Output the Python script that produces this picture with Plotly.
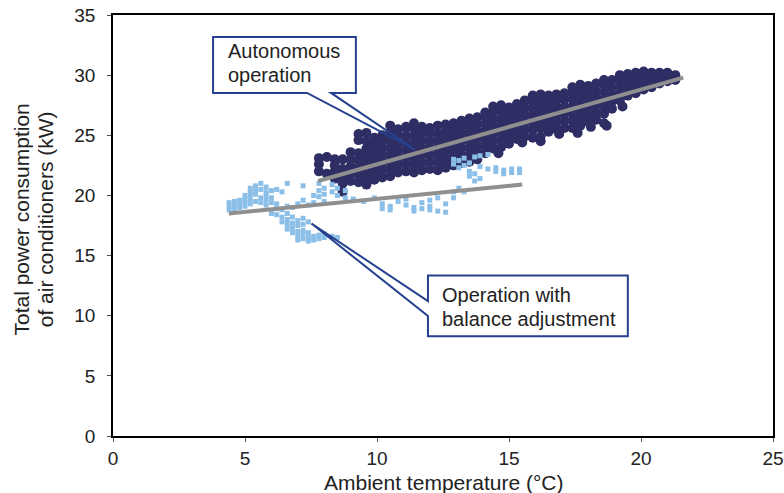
import plotly.graph_objects as go

# ---------------- data ----------------
# Autonomous operation: columns of ambient temperature (°C) with power values (kW)
auto_temp_cols = [7.8, 8.1, 8.4, 8.7, 9.0, 9.3, 9.6, 9.9, 10.2, 10.5, 10.8, 11.1, 11.4, 11.7,
                  12.0, 12.3, 12.6, 12.9, 13.2, 13.5, 13.8, 14.1, 14.4, 14.7, 15.0, 15.3,
                  15.6, 15.9, 16.2, 16.5, 16.8, 17.1, 17.4, 17.7, 18.0, 18.3, 18.6, 18.9,
                  19.2, 19.5, 19.8, 20.1, 20.4, 20.7, 21.0, 21.3]
auto_power_cols = [
    [22.0, 22.6, 23.1],
    [21.8, 23.2],
    [21.4, 22.0, 22.5, 23.0],
    [20.3, 21.0, 21.6, 22.2, 23.0],
    [21.2, 21.8, 22.4, 23.0, 23.6],
    [21.1, 21.7, 22.3, 22.9, 23.5, 24.6, 25.1],
    [20.9, 21.5, 22.1, 22.7, 23.3, 23.9, 24.5, 25.2],
    [21.3, 21.9, 22.5, 23.1, 23.7, 24.3, 24.8],
    [21.5, 22.1, 22.7, 23.3, 23.9, 24.5, 25.0],
    [21.6, 22.2, 22.8, 23.4, 24.0, 24.6, 25.2, 25.8],
    [21.9, 22.5, 23.1, 23.7, 24.3, 24.9, 25.5],
    [22.0, 22.6, 23.2, 23.8, 24.4, 25.0, 25.7],
    [21.9, 22.5, 23.1, 23.7, 24.3, 24.9, 25.5, 26.0],
    [22.1, 22.7, 23.3, 23.9, 24.5, 25.1, 25.7],
    [22.2, 22.8, 23.4, 24.0, 24.6, 25.2, 25.6],
    [22.1, 22.7, 23.3, 23.9, 24.5, 25.1, 25.8],
    [22.3, 22.9, 23.5, 24.1, 24.7, 25.3, 25.9],
    [22.5, 23.1, 23.7, 24.3, 24.9, 25.5, 26.0],
    [22.7, 23.3, 23.9, 24.5, 25.1, 25.7, 26.2],
    [22.8, 23.4, 24.0, 24.6, 25.2, 25.8, 26.4],
    [23.0, 23.6, 24.2, 24.8, 25.4, 26.0, 26.5],
    [23.5, 24.1, 24.7, 25.3, 25.9, 26.5, 26.9],
    [23.9, 24.5, 25.1, 25.7, 26.3, 26.9, 27.4],
    [24.0, 24.6, 25.2, 25.8, 26.4, 27.0, 27.5],
    [24.3, 24.9, 25.5, 26.1, 26.7, 27.3],
    [24.7, 25.3, 25.9, 26.5, 27.1, 27.6],
    [24.9, 25.5, 26.1, 26.7, 27.3, 27.9],
    [24.8, 25.4, 26.0, 26.6, 27.2, 27.8, 28.3],
    [24.9, 25.6, 26.2, 26.8, 27.4, 28.0, 28.4],
    [25.3, 25.9, 26.5, 27.1, 27.7, 28.3],
    [25.5, 26.1, 26.7, 27.3, 27.9, 28.4],
    [25.6, 26.2, 26.8, 27.4, 28.0, 28.5],
    [25.6, 26.2, 26.8, 27.4, 28.0, 28.6, 29.0],
    [25.8, 26.4, 27.0, 27.6, 28.2, 28.8, 29.2],
    [26.1, 26.7, 27.3, 27.9, 28.5, 29.1],
    [26.3, 26.9, 27.5, 28.1, 28.7, 29.3],
    [26.0, 26.8, 27.4, 28.0, 28.6, 29.2, 29.6],
    [27.2, 27.8, 28.4, 29.0, 29.6],
    [27.9, 28.5, 29.1, 29.7, 30.0],
    [28.3, 28.9, 29.5, 30.1],
    [28.5, 29.1, 29.7, 30.2],
    [28.8, 29.4, 30.0, 30.3],
    [29.0, 29.6, 30.2],
    [29.3, 29.8, 30.2],
    [29.5, 29.9, 30.2],
    [29.6, 30.0],
]
# a few stray autonomous points outside the main band
auto_extra_temp = [15.5, 16.2, 17.6, 18.7, 19.3, 14.6, 16.9, 18.1]
auto_extra_power = [24.4, 24.5, 25.2, 25.8, 27.4, 23.5, 25.1, 25.7]

# Operation with balance adjustment
bal_temp_cols = [4.4, 4.6, 4.8, 5.0, 5.2, 5.4, 5.6, 5.8, 6.0, 6.2, 6.4, 6.6, 6.8, 7.0, 7.2,
                 7.4, 7.6, 7.8, 8.0, 8.3, 8.5, 8.8, 9.1, 9.5, 9.9, 10.2, 10.5, 10.8, 11.1,
                 11.4, 11.7, 12.0, 12.3, 12.6, 12.9, 13.1, 13.3, 13.5, 13.7, 13.9, 14.2,
                 14.5, 14.8, 15.1, 15.4]
bal_power_cols = [
    [18.8, 19.1, 19.4],
    [18.9, 19.2, 19.5],
    [19.0, 19.3, 19.6],
    [19.1, 19.4, 19.7, 20.0],
    [19.3, 19.6, 20.0, 20.3, 20.6],
    [19.5, 20.1, 20.4, 20.8],
    [19.4, 19.8, 20.5, 21.0],
    [19.2, 19.6, 20.0, 20.3, 20.7],
    [18.5, 19.4, 19.8, 20.4],
    [18.4, 18.9, 19.3, 20.5],
    [17.8, 18.2, 18.8, 20.3],
    [17.2, 17.6, 18.0, 18.5, 19.1, 21.0],
    [16.9, 17.3, 17.7, 18.2, 19.0],
    [16.3, 16.6, 17.0, 17.5, 17.9, 19.3],
    [16.4, 16.8, 17.1, 17.6, 18.1, 19.6, 20.8],
    [16.2, 16.5, 16.9, 17.8, 19.2],
    [16.3, 16.6, 19.4, 20.0],
    [16.4, 16.7, 19.9, 20.4, 21.0],
    [16.5, 16.8, 19.5, 20.1, 20.6],
    [16.6, 20.3, 20.9],
    [16.5, 20.0, 20.6],
    [19.8, 20.4],
    [19.7],
    [19.5],
    [19.8],
    [18.9, 19.3],
    [18.8, 19.1],
    [19.5],
    [19.2, 19.7],
    [18.7, 19.0],
    [18.9, 19.4],
    [18.8, 19.1, 19.6],
    [18.7, 19.8],
    [18.6, 19.3],
    [19.8, 20.3, 22.6, 23.0],
    [20.6, 22.3, 22.9],
    [20.3, 22.5, 23.1],
    [21.6, 22.0, 22.7],
    [21.2, 21.8, 23.2],
    [21.4, 22.4, 23.3],
    [22.2, 23.4],
    [22.0, 22.3],
    [21.8, 22.1],
    [21.9, 22.2],
    [21.9, 22.2],
]

# Fitted trend lines (end points)
fit_auto_temp = [7.77, 21.6]
fit_auto_power = [21.2, 29.8]
fit_bal_temp = [4.39, 15.5]
fit_bal_power = [18.5, 20.9]

x_tick_vals = [0, 5, 10, 15, 20, 25]
y_tick_vals = [0, 5, 10, 15, 20, 25, 30, 35]

# ---------------- build ----------------
def flatten(tcols, pcols):
    xs, ys = [], []
    for t, ps in zip(tcols, pcols):
        for p in ps:
            xs.append(t)
            ys.append(p)
    return xs, ys

ax, ay = flatten(auto_temp_cols, auto_power_cols)
ax += auto_extra_temp
ay += auto_extra_power
bx, by = flatten(bal_temp_cols, bal_power_cols)

NAVY = "#2f2e64"
LIGHT = "#8cbfe8"
GRAY = "#8f8f8f"
CALL = "#24408f"
TXT = "#222222"
FONT = "Liberation Sans, Arial, sans-serif"

fig = go.Figure()
fig.add_trace(go.Scatter(x=ax, y=ay, mode="markers",
                         marker=dict(color=NAVY, size=10, symbol="circle", line=dict(width=0)),
                         showlegend=False, hoverinfo="skip"))
fig.add_trace(go.Scatter(x=bx, y=by, mode="markers",
                         marker=dict(color=LIGHT, size=5, symbol="square", line=dict(width=0)),
                         showlegend=False, hoverinfo="skip"))
fig.add_trace(go.Scatter(x=fit_auto_temp, y=fit_auto_power, mode="lines",
                         line=dict(color=GRAY, width=4), showlegend=False, hoverinfo="skip"))
fig.add_trace(go.Scatter(x=fit_bal_temp, y=fit_bal_power, mode="lines",
                         line=dict(color=GRAY, width=4), showlegend=False, hoverinfo="skip"))

# Callouts (box + wedge pointer)
def callout(x0, x1, y0, y1, path_pts):
    fig.add_shape(type="rect", xref="x", yref="y", x0=x0, x1=x1, y0=y0, y1=y1,
                  fillcolor="white", line=dict(width=0), layer="above")
    d = "M " + " L ".join(f"{px},{py}" for px, py in path_pts) + " Z"
    fig.add_shape(type="path", xref="x", yref="y", path=d,
                  line=dict(color=CALL, width=2), fillcolor="rgba(0,0,0,0)", layer="above")

callout(3.79, 9.2, 28.52, 33.17,
        [(3.79, 28.52), (3.79, 33.17), (9.2, 33.17), (9.2, 28.52),
         (8.26, 28.52), (11.44, 23.8), (7.35, 28.52)])
callout(11.93, 19.5, 8.29, 13.35,
        [(11.93, 8.29), (19.5, 8.29), (19.5, 13.35), (11.93, 13.35),
         (11.93, 11.22), (7.52, 17.66), (11.93, 9.97)])

def label(x, y, text):
    fig.add_annotation(x=x, y=y, xref="x", yref="y", xanchor="left", yanchor="middle",
                       showarrow=False, text=text, font=dict(family=FONT, size=20, color=TXT))

label(4.28, 32.0, "Autonomous")
label(4.28, 30.0, "operation")
label(12.39, 11.7, "Operation with")
label(12.39, 9.7, "balance adjustment")

# Axis titles as annotations (paper coordinates)
fig.add_annotation(xref="paper", yref="paper", x=0.5, y=-0.11, xanchor="center", yanchor="middle",
                   showarrow=False, text="Ambient temperature (°C)",
                   font=dict(family=FONT, size=21, color=TXT))
fig.add_annotation(xref="paper", yref="paper", x=-0.138, y=0.514, xanchor="center", yanchor="middle",
                   showarrow=False, textangle=-90, text="Total power consumption",
                   font=dict(family=FONT, size=21, color=TXT))
fig.add_annotation(xref="paper", yref="paper", x=-0.102, y=0.514, xanchor="center", yanchor="middle",
                   showarrow=False, textangle=-90, text="of air conditioners (kW)",
                   font=dict(family=FONT, size=21, color=TXT))

fig.update_layout(
    width=784, height=493,
    margin=dict(l=113, r=11, t=15, b=57),
    paper_bgcolor="white", plot_bgcolor="white",
    font=dict(family=FONT, size=19, color=TXT),
    showlegend=False,
)
fig.update_xaxes(range=[0, 25], tickvals=x_tick_vals, showgrid=False, zeroline=False,
                 showline=True, linecolor="black", linewidth=1.5, mirror=True,
                 ticks="outside", ticklen=4, tickcolor="#555", automargin=False,
                 tickfont=dict(family=FONT, size=19, color=TXT))
fig.update_yaxes(range=[0, 35], tickvals=y_tick_vals, showgrid=False, zeroline=False,
                 showline=True, linecolor="black", linewidth=1.5, mirror=True,
                 ticks="outside", ticklen=4, tickcolor="#555", ticklabelstandoff=8,
                 automargin=False, tickfont=dict(family=FONT, size=19, color=TXT))

fig.write_html("out.html", config={"displayModeBar": False},
               post_script="document.body.style.margin='0';document.body.style.padding='0';"
                           "document.body.style.overflow='hidden';")
